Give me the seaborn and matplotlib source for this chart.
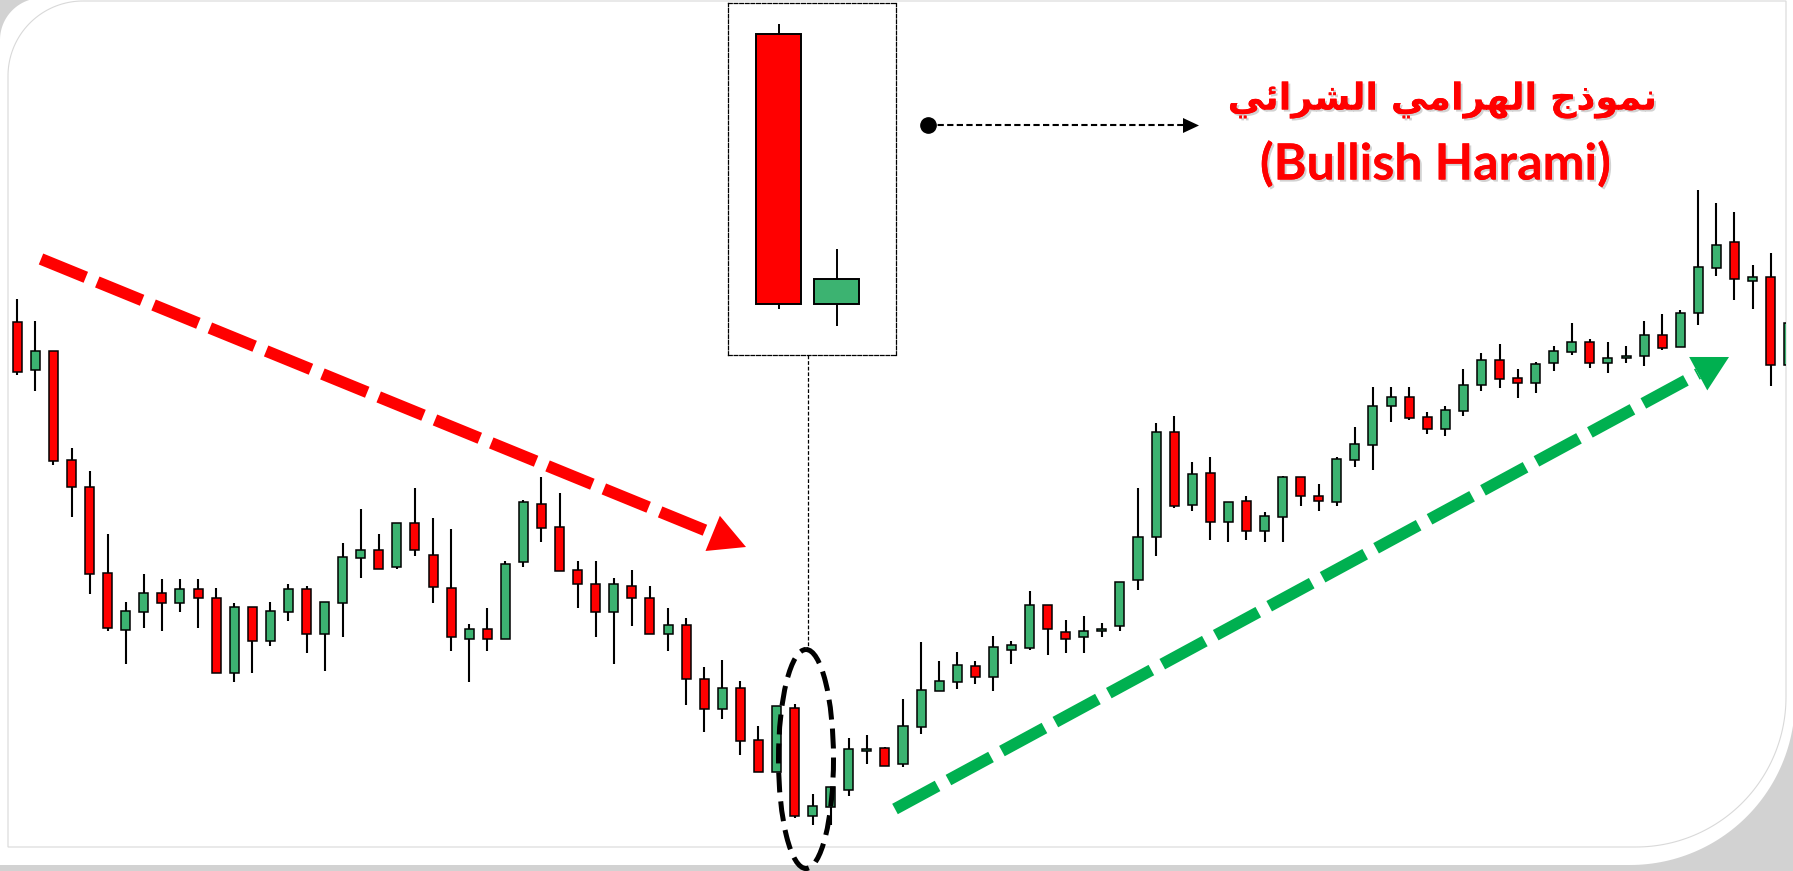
import numpy as np
import pandas as pd
import matplotlib
matplotlib.use("Agg")
import matplotlib.pyplot as plt
import matplotlib.patheffects as pe
from matplotlib.patches import Polygon, Ellipse
import seaborn as sns

# ---------------------------------------------------------------- data
# daily OHLC prices, one entry per session
open_ = [578, 530, 549, 440, 413, 327, 270, 288, 307, 297,
         311, 302, 227, 293, 259, 288, 311, 266, 297, 342,
         350, 333, 377, 345, 312, 261, 271, 261, 338, 396,
         373, 330, 316, 288, 314, 302, 266, 275, 221, 191,
         212, 160, 128, 192, 84, 93, 110, 149, 152, 136,
         173, 209, 218, 234, 223, 250, 252, 295, 268, 263,
         269, 274, 320, 363, 468, 395, 427, 378, 399, 369,
         383, 423, 404, 398, 440, 455, 494, 503, 483, 471,
         489, 515, 540, 522, 517, 537, 548, 558, 537, 542,
         544, 565, 553, 587, 632, 658, 619, 623, 535]
high = [601, 579, 549, 452, 429, 366, 298, 326, 321, 321,
        321, 312, 297, 293, 298, 316, 314, 298, 357, 391,
        366, 377, 412, 382, 371, 276, 292, 339, 400, 423,
        407, 339, 339, 322, 330, 314, 292, 282, 233, 240,
        219, 174, 194, 196, 106, 113, 162, 165, 153, 201,
        258, 239, 248, 239, 264, 259, 309, 295, 280, 284,
        277, 318, 412, 477, 484, 438, 443, 398, 404, 388,
        424, 423, 416, 443, 473, 513, 513, 513, 488, 494,
        531, 547, 556, 531, 538, 554, 577, 561, 558, 554,
        579, 586, 590, 710, 697, 688, 635, 647, 590]
low = [525, 509, 435, 383, 306, 269, 236, 272, 269, 288,
       272, 227, 218, 227, 254, 279, 247, 229, 263, 322,
       331, 331, 344, 297, 249, 218, 249, 261, 333, 358,
       329, 292, 263, 236, 274, 266, 249, 195, 168, 181,
       145, 128, 128, 82, 75, 75, 104, 136, 134, 133,
       166, 209, 211, 216, 209, 236, 250, 245, 247, 247,
       263, 269, 310, 344, 392, 389, 360, 358, 360, 358,
       358, 394, 389, 394, 433, 430, 478, 480, 466, 464,
       484, 509, 512, 502, 507, 529, 545, 532, 527, 537,
       534, 550, 553, 575, 624, 600, 591, 514, 528]
close = [528, 549, 439, 413, 326, 272, 289, 307, 297, 311,
         302, 227, 293, 259, 289, 311, 266, 298, 343, 350,
         331, 377, 350, 313, 263, 271, 261, 336, 398, 372,
         329, 316, 288, 316, 302, 266, 275, 221, 191, 212,
         159, 128, 194, 84, 94, 113, 151, 151, 134, 174,
         210, 219, 235, 223, 253, 255, 295, 271, 261, 269,
         271, 318, 363, 468, 394, 426, 378, 398, 369, 384,
         423, 404, 399, 441, 456, 494, 503, 482, 471, 490,
         515, 540, 521, 517, 536, 549, 558, 537, 542, 544,
         565, 552, 587, 633, 655, 621, 623, 535, 577]

# the two sessions forming the bullish harami
harami_idx = [43, 44]

title_ar = "نموذج الهرامي الشرائي"
title_en = "(Bullish Harami)"

RED = "#FF0000"
GREEN_BODY = "#3CB371"
GREEN_ARROW = "#00B050"

W, H = 1793, 871
DPI = 100


def shape_arabic(text):
    """Minimal contextual shaping + visual reordering for Arabic text."""
    forms = {  # isolated, final, initial, medial
        "ا": (0xFE8D, 0xFE8E, None, None),
        "ل": (0xFEDD, 0xFEDE, 0xFEDF, 0xFEE0),
        "ه": (0xFEE9, 0xFEEA, 0xFEEB, 0xFEEC),
        "ر": (0xFEAD, 0xFEAE, None, None),
        "م": (0xFEE1, 0xFEE2, 0xFEE3, 0xFEE4),
        "ي": (0xFEF1, 0xFEF2, 0xFEF3, 0xFEF4),
        "ش": (0xFEB5, 0xFEB6, 0xFEB7, 0xFEB8),
        "ئ": (0xFE89, 0xFE8A, 0xFE8B, 0xFE8C),
        "ن": (0xFEE5, 0xFEE6, 0xFEE7, 0xFEE8),
        "و": (0xFEED, 0xFEEE, None, None),
        "ذ": (0xFEAB, 0xFEAC, None, None),
        "ج": (0xFE9D, 0xFE9E, 0xFE9F, 0xFEA0),
    }
    out = []
    for i, ch in enumerate(text):
        if ch not in forms:
            out.append(ch)
            continue
        prev = text[i - 1] if i > 0 else ""
        nxt = text[i + 1] if i + 1 < len(text) else ""
        join_prev = prev in forms and forms[prev][2] is not None
        join_next = nxt in forms and forms[ch][2] is not None
        iso, fin, ini, med = forms[ch]
        if join_prev and join_next:
            cp = med
        elif join_prev:
            cp = fin
        elif join_next:
            cp = ini
        else:
            cp = iso
        out.append(chr(cp))
    return "".join(reversed(out))


def draw_candles(ax, df, width, wick_lw, edge_lw):
    wicks = pd.concat([
        df[["x", "low"]].rename(columns={"low": "price"}).assign(unit=df.index),
        df[["x", "high"]].rename(columns={"high": "price"}).assign(unit=df.index),
    ])
    sns.lineplot(data=wicks, x="x", y="price", units="unit", estimator=None,
                 color="black", lw=wick_lw, ax=ax, legend=False, zorder=1,
                 solid_capstyle="butt")
    up = df["close"] >= df["open"]
    body_lo = np.minimum(df["open"], df["close"])
    body_h = np.abs(df["close"] - df["open"])
    ax.bar(df["x"], body_h, bottom=body_lo, width=width,
           color=np.where(up, GREEN_BODY, RED), edgecolor="black",
           linewidth=edge_lw, zorder=2)
    ax.set_xlabel("")
    ax.set_ylabel("")


def rounded_outline(x0, y0, x1, y1, r_tl, r_br, n=60):
    t = np.linspace(np.pi, 1.5 * np.pi, n)
    pts = list(zip(x0 + r_tl + r_tl * np.cos(t), y0 + r_tl + r_tl * np.sin(t)))
    pts.append((x1, y0))
    t = np.linspace(0, 0.5 * np.pi, n)
    pts += list(zip(x1 - r_br + r_br * np.cos(t), y1 - r_br + r_br * np.sin(t)))
    pts.append((x0, y1))
    return np.array(pts)


def arrow_head(ax, tip, direction, length, width, color):
    d = np.asarray(direction, float)
    d /= np.hypot(*d)
    n = np.array([-d[1], d[0]])
    tip = np.asarray(tip, float)
    base = tip - d * length
    tri = [tip, base + n * width / 2, base - n * width / 2]
    ax.add_patch(Polygon(tri, closed=True, color=color, lw=0, zorder=6))
    return base


sns.set_theme(style="white")
plt.rcParams["font.family"] = ["Lato", "DejaVu Sans"]

candles = pd.DataFrame({"open": open_, "high": high, "low": low, "close": close})
candles["x"] = np.arange(len(candles))

fig = plt.figure(figsize=(W / DPI, H / DPI), dpi=DPI)
fig.patch.set_facecolor("#d2d2d2")


def px_axes(left, top, right, bottom, **kw):
    return fig.add_axes([left / W, 1 - bottom / H, (right - left) / W, (bottom - top) / H], **kw)


# background panel
ax_bg = px_axes(0, 0, W, H)
ax_bg.set_zorder(0)
ax_bg.set_xlim(0, W)
ax_bg.set_ylim(H, 0)
ax_bg.axis("off")
ax_bg.add_patch(Polygon(rounded_outline(0, -2, W + 2, 865, 42, 165),
                        closed=True, facecolor="white", edgecolor="none"))
ax_bg.add_patch(Polygon(rounded_outline(8, 1, 1786, 847, 75, 150),
                        closed=True, facecolor="none", edgecolor="#d9d9d9", lw=0.8))

# main price chart
ax = px_axes(8, 0, 1786, 847)
ax.set_zorder(1)
ax.patch.set_alpha(0)
draw_candles(ax, candles, width=0.5, wick_lw=1.5, edge_lw=1.1)
ax.set_xlim(-0.5145, 97.85)
ax.set_ylim(53, 900)
ax.axis("off")

# magnified view of the harami pair
ax_in = px_axes(727.5, 2.7, 895.7, 355)
ax_in.set_zorder(2)
ax_in.set_facecolor("white")
pair = candles.loc[harami_idx].reset_index(drop=True)
pair["x"] = np.arange(len(pair))
draw_candles(ax_in, pair, width=0.78, wick_lw=1.4, edge_lw=1.4)
ax_in.set_xlim(-0.884, 2.02)
ax_in.set_ylim(63.6, 204.5)
ax_in.set_xticks([])
ax_in.set_yticks([])
for sp in ax_in.spines.values():
    sp.set_visible(True)
    sp.set_color("black")
    sp.set_linewidth(0.9)
    sp.set_linestyle((0, (3, 1.5)))

# annotations
ax_fg = px_axes(0, 0, W, H)
ax_fg.set_zorder(3)
ax_fg.patch.set_alpha(0)
ax_fg.set_xlim(0, W)
ax_fg.set_ylim(H, 0)
ax_fg.axis("off")

# downtrend arrow
r_start, r_tip = np.array([41, 259]), np.array([746, 547])
r_base = arrow_head(ax_fg, r_tip, r_tip - r_start, 36, 38, RED)
ax_fg.plot([r_start[0], r_base[0]], [r_start[1], r_base[1]], color=RED, lw=8.5,
           dashes=(4.1, 1.05), solid_capstyle="butt", dash_capstyle="butt", zorder=5)

# uptrend arrow
g_start, g_tip = np.array([895, 809]), np.array([1729, 357])
g_base = arrow_head(ax_fg, g_tip, g_tip - g_start, 35, 38, GREEN_ARROW)
ax_fg.plot([g_start[0], g_base[0]], [g_start[1], g_base[1]], color=GREEN_ARROW, lw=8.5,
           dashes=(4.1, 1.05), solid_capstyle="butt", dash_capstyle="butt", zorder=5)

# ellipse around the pattern and link to the magnified view
ax_fg.add_patch(Ellipse((806, 759), 55, 219, fill=False, edgecolor="black", lw=3.6,
                        linestyle=(0, (4, 1.8)), zorder=6))
ax_fg.plot([807.5, 807.5], [355, 650], color="black", lw=0.9, dashes=(3, 1.5), zorder=5)

# pointer to the label
ax_fg.plot([927.5], [125.5], marker="o", ms=11, color="black", zorder=6)
p_base = arrow_head(ax_fg, (1199, 125.5), (1, 0), 16, 15, "black")
ax_fg.plot([927.5, p_base[0]], [125.5, 125.5], color="black", lw=1.5,
           dashes=(3, 1.6), zorder=5)

shadow = [pe.withSimplePatchShadow(offset=(1.5, -1.5), shadow_rgbFace="#7f7f7f", alpha=0.35),
          pe.Normal()]
ax_fg.text(1442, 100, shape_arabic(title_ar), color=RED, fontsize=26.5, fontweight="bold",
           family=["DejaVu Sans"], ha="center", va="center", path_effects=shadow, zorder=7)
ax_fg.text(1435, 164, title_en, color=RED, fontsize=36, fontweight="bold",
           ha="center", va="center", path_effects=shadow, zorder=7)

fig.savefig("out.png", dpi=DPI, facecolor=fig.get_facecolor())
